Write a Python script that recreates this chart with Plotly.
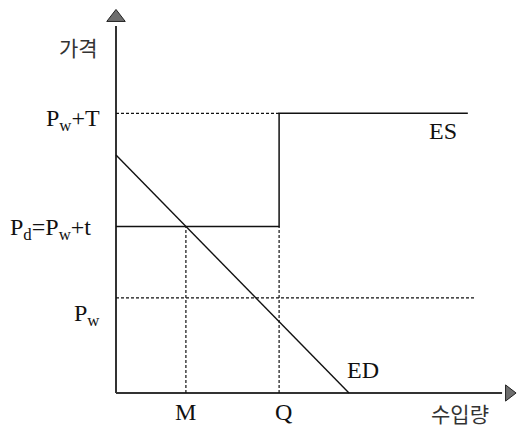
import plotly.graph_objects as go

# --- data (economic model units) ---
quantity_marks = ["M", "Q"]
quantity_values = [3, 7]            # M, Q
price_labels = ["P<sub>w</sub>+T", "P<sub>d</sub>=P<sub>w</sub>+t", "P<sub>w</sub>"]
price_values = [11.75, 7, 4]        # Pw+T, Pd, Pw
ed_intercept_price = 10             # ED at q = 0
ed_intercept_qty = 10               # ED at p = 0
es_end_qty = 15.1                   # right end of ES line
pw_line_end_qty = 15.4              # right end of dotted Pw line
axis_x_end = 16.57
axis_y_end = 15.42

M, Q = quantity_values
PwT, Pd, Pw = price_values

px_x = 23.3
px_y = 23.8
W, H = 518, 427
ox, oy = 116, 393  # origin pixel

serif = "Liberation Serif, Noto Sans CJK KR, serif"
kr = "Noto Sans CJK KR, sans-serif"
ink = "#111111"
dot = "3px,2px"

fig = go.Figure()

def line(xs, ys, dash=None, width=1.4, color=ink):
    fig.add_trace(go.Scatter(x=xs, y=ys, mode="lines",
                             line=dict(color=color, width=width, dash=dash),
                             hoverinfo="skip", showlegend=False))

# axes
line([0, 0], [0, axis_y_end], width=2, color="#333333")
line([0, axis_x_end], [0, 0], width=2, color="#333333")
fig.add_trace(go.Scatter(x=[0], y=[axis_y_end + 0.36], mode="markers",
                         marker=dict(symbol="triangle-up", size=16, color="#6e6e6e",
                                     line=dict(color="#222222", width=1)),
                         hoverinfo="skip", showlegend=False, cliponaxis=False))
fig.add_trace(go.Scatter(x=[axis_x_end + 0.30], y=[0], mode="markers",
                         marker=dict(symbol="triangle-right", size=14, color="#6e6e6e",
                                     line=dict(color="#222222", width=1)),
                         hoverinfo="skip", showlegend=False, cliponaxis=False))

# dotted guide lines
line([0, Q], [PwT, PwT], dash=dot, width=1.2)
line([0, pw_line_end_qty], [Pw, Pw], dash=dot, width=1.2)
line([M, M], [0, Pd], dash=dot, width=1.2)
line([Q, Q], [0, Pd], dash=dot, width=1.2)

# ES (step supply)
line([0, Q, Q, es_end_qty], [Pd, Pd, PwT, PwT], width=1.5)

# ED (demand)
line([0, ed_intercept_qty], [ed_intercept_price, 0], width=1.4)

ann = []
shifts = [(-14, -7), (-23, -3), (-14, -17)]
for lab, v, (xs, ys) in zip(price_labels, price_values, shifts):
    ann.append(dict(x=0, y=v, text=lab, xanchor="right", yanchor="middle",
                    xshift=xs, yshift=ys, showarrow=False,
                    font=dict(family=serif, size=24, color=ink)))
for lab, v, xs in zip(quantity_marks, quantity_values, [0, 4]):
    ann.append(dict(x=v, y=0, text=lab, xanchor="center", yanchor="middle",
                    xshift=xs, yshift=-19, showarrow=False,
                    font=dict(family=serif, size=24, color=ink)))
ann.append(dict(x=14.03, y=11.0, text="ES", showarrow=False,
                font=dict(family=serif, size=24, color=ink)))
ann.append(dict(x=10.6, y=0.97, text="ED", showarrow=False,
                font=dict(family=serif, size=24, color=ink)))
ann.append(dict(x=-1.59, y=14.54, text="가격", showarrow=False,
                font=dict(family=kr, size=21, color="#333333")))
ann.append(dict(x=14.76, y=-0.84, text="수입량", showarrow=False,
                font=dict(family=kr, size=21, color="#333333")))

fig.update_layout(
    width=W, height=H,
    margin=dict(l=0, r=0, t=0, b=0),
    paper_bgcolor="white", plot_bgcolor="white",
    xaxis=dict(range=[-ox / px_x, (W - ox) / px_x], visible=False, fixedrange=True),
    yaxis=dict(range=[-(H - oy) / px_y, oy / px_y], visible=False, fixedrange=True),
    annotations=ann,
    showlegend=False,
)

fig.write_html("out.html",
               config={"displayModeBar": False},
               post_script="document.body.style.margin='0';document.body.style.overflow='hidden';")
